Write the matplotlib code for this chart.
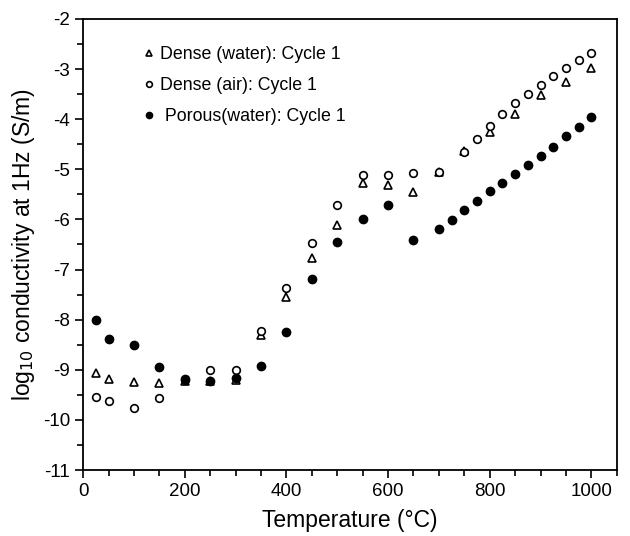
import numpy as np
import matplotlib
matplotlib.use("Agg")
import matplotlib.pyplot as plt
from matplotlib.ticker import MultipleLocator

plt.rcParams['font.family'] = ['Liberation Sans', 'DejaVu Sans']
plt.rcParams['axes.unicode_minus'] = False

# Dense sample in water, cycle 1
t_dw = [25, 50, 100, 150, 200, 250, 300, 350, 400, 450, 500, 550, 600, 650, 700,
        750, 800, 850, 900, 950, 1000]
s_dw = [-9.07, -9.19, -9.25, -9.27, -9.22, -9.23, -9.20, -8.30, -7.55, -6.77, -6.12,
        -5.27, -5.31, -5.45, -5.05, -4.63, -4.25, -3.90, -3.52, -3.25, -2.97]

# Dense sample in air, cycle 1
t_da = [25, 50, 100, 150, 200, 250, 300, 350, 400, 450, 500, 550, 600, 650, 700,
        750, 775, 800, 825, 850, 875, 900, 925, 950, 975, 1000]
s_da = [-9.55, -9.62, -9.76, -9.57, -9.20, -9.00, -9.01, -8.23, -7.36, -6.47, -5.71,
        -5.11, -5.11, -5.07, -5.05, -4.65, -4.39, -4.14, -3.89, -3.67, -3.49, -3.31,
        -3.13, -2.97, -2.82, -2.67]

# Porous sample in water, cycle 1
t_pw = [25, 50, 100, 150, 200, 250, 300, 350, 400, 450, 500, 550, 600, 650, 700,
        725, 750, 775, 800, 825, 850, 875, 900, 925, 950, 975, 1000]
s_pw = [-8.00, -8.39, -8.50, -8.95, -9.19, -9.23, -9.17, -8.93, -8.25, -7.19, -6.46,
        -6.00, -5.71, -6.41, -6.20, -6.02, -5.81, -5.63, -5.44, -5.27, -5.09, -4.92,
        -4.73, -4.55, -4.34, -4.15, -3.95]

fig = plt.figure(figsize=(6.3, 5.36), dpi=100)
ax = fig.add_axes([0.1322, 0.1231, 0.8467, 0.8415])

ax.plot(t_dw, s_dw, '^', ms=5.5, mfc='white', mec='black', mew=1.2, ls='none',
        label='Dense (water): Cycle 1')
ax.plot(t_da, s_da, 'o', ms=5.5, mfc='white', mec='black', mew=1.2, ls='none',
        label='Dense (air): Cycle 1')
ax.plot(t_pw, s_pw, 'o', ms=6, mfc='black', mec='black', ls='none',
        label=' Porous(water): Cycle 1')

ax.set_xlim(0, 1050)
ax.set_ylim(-11, -2)
ax.xaxis.set_major_locator(MultipleLocator(200))
ax.xaxis.set_minor_locator(MultipleLocator(50))
ax.yaxis.set_major_locator(MultipleLocator(1))
ax.yaxis.set_minor_locator(MultipleLocator(0.5))
ax.tick_params(which='both', direction='out', top=False, right=False,
               labelsize=13.5, width=1.2)
ax.tick_params(which='major', length=6)
ax.tick_params(which='minor', length=4)
for sp in ax.spines.values():
    sp.set_linewidth(1.3)

ax.set_xlabel('Temperature (°C)', fontsize=16.5, labelpad=6)
ax.set_ylabel('log$_{10}$ conductivity at 1Hz (S/m)', fontsize=16.5, labelpad=4)

ax.legend(loc='upper left', bbox_to_anchor=(0.1135, 0.94), frameon=False,
          fontsize=12.8, markerscale=0.75, handlelength=0.6, handletextpad=0.3,
          labelspacing=0.8, borderpad=0, borderaxespad=0)

fig.savefig('out.png', dpi=100)
